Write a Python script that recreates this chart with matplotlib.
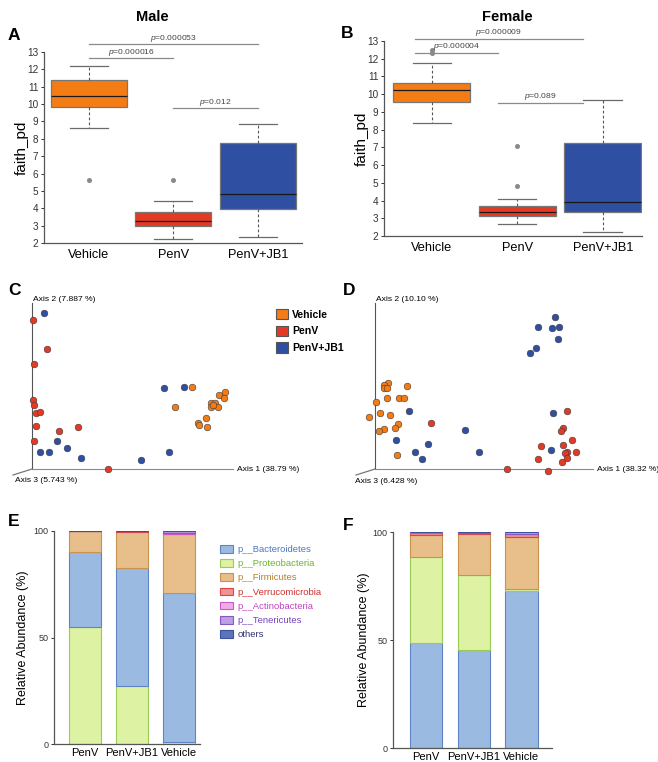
import matplotlib
matplotlib.use("Agg")
import matplotlib.pyplot as plt
from matplotlib.patches import Patch

plt.rcParams['font.family'] = 'Liberation Sans'
plt.rcParams['mathtext.fontset'] = 'custom'
plt.rcParams['mathtext.it'] = 'Liberation Sans:italic'
plt.rcParams['mathtext.rm'] = 'Liberation Sans'

# ---- data ----
groups = ["Vehicle", "PenV", "PenV+JB1"]
group_colors = ['#F47C14', '#E33A26', '#2F4FA2']

# faith_pd boxplots (whisker low, q1, median, q3, whisker high, outliers)
male_lo = [8.65, 2.25, 2.35]
male_q1 = [9.82, 2.97, 3.93]
male_med = [10.45, 3.27, 4.82]
male_q3 = [11.37, 3.77, 7.76]
male_hi = [12.18, 4.42, 8.84]
male_fliers = [[5.63], [5.63], []]
male_sig_x0 = [1, 1, 2]
male_sig_x1 = [3, 2, 3]
male_sig_y = [13.44, 12.65, 9.75]
male_sig_p = ["0.000053", "0.000016", "0.012"]

female_lo = [8.4, 2.66, 2.2]
female_q1 = [9.58, 3.15, 3.35]
female_med = [10.22, 3.36, 3.9]
female_q3 = [10.62, 3.72, 7.24]
female_hi = [11.74, 4.08, 9.67]
female_fliers = [[12.3, 12.48], [4.82, 7.08], []]
female_sig_x0 = [0.8, 0.8, 1.77]
female_sig_x1 = [2.77, 1.77, 2.77]
female_sig_y = [13.13, 12.34, 9.52]
female_sig_p = ["0.000009", "0.000004", "0.089"]

# PCoA (axis 1 / axis 2 projection)
c_veh_x = [160.3, 143, 193, 187, 192.3, 178.7, 183, 178.7, 186.3, 181.3, 173.7, 165.7, 167.3, 175]
c_veh_y = [82.3, 61.7, 77, 74, 70.7, 66.3, 66.3, 62.3, 62.3, 64, 51, 45.7, 44, 42]
c_pen_x = [0.7, 15, 1.7, 0.7, 2.3, 4, 8, 3.7, 26.7, 46.3, 1.7, 75.7]
c_pen_y = [149, 119.7, 104.7, 69, 64, 55.7, 57.3, 42.7, 37.7, 42.3, 27.7, 0]
c_jb1_x = [12, 132.3, 152, 25.3, 35.3, 8, 16.7, 49.3, 109.3, 137.3]
c_jb1_y = [156.3, 81.3, 82.3, 28.3, 21, 17.3, 17.3, 11.3, 8.7, 17.3]

d_veh_x = [13.3, 9, 9, 12.3, 32, 12, 24.3, 29, 1.3, 5.3, 14.7, -6, 22.7, 20.3, 8.7, 4.3, 22]
d_veh_y = [85.7, 84, 80.7, 80.7, 83, 70.7, 71, 71, 67, 56, 54, 52.3, 45.3, 41, 40, 37.7, 14.3]
d_pen_x = [56.3, 191.7, 188, 185.7, 196.7, 166.3, 188.3, 192.3, 200.7, 190.3, 192, 187.3, 163.3, 131.7, 172.7]
d_pen_y = [46.3, 57.7, 41, 37.7, 28.7, 23.3, 24, 17.3, 16.7, 16.3, 11, 7.3, 10, 0, -1.7]
d_jb1_x = [179.7, 163.3, 177.3, 184, 182.7, 160.7, 154.7, 34.3, 178.3, 90, 21.3, 53.3, 104.3, 40.3, 46.7, 176.3]
d_jb1_y = [152.3, 142.3, 140.7, 142.3, 130, 121.3, 115.7, 57.7, 55.7, 38.7, 28.7, 25.3, 16.7, 16.7, 9.7, 18.7]

# relative abundance (%)
bar_groups = ["PenV", "PenV+JB1", "Vehicle"]
phyla = ["p__Bacteroidetes", "p__Proteobacteria", "p__Firmicutes", "p__Verrucomicrobia",
         "p__Actinobacteria", "p__Tenericutes", "others"]
phyla_face = ['#9BBAE2', '#DDF2A2', '#E8BF8A', '#F29292', '#F0AAE6', '#BDA0E2', '#5C74B8']
phyla_edge = ['#5F84C4', '#9ACB58', '#C8924F', '#D94646', '#C85AC8', '#8558C4', '#3C52A0']
phyla_text = ['#4A78C4', '#6CB52C', '#B7802C', '#CF3131', '#C043C0', '#7444C0', '#2E3470']

male_bact = [35.0, 55.5, 70.0]
male_proteo = [55.0, 27.0, 1.0]
male_firm = [9.9, 17.0, 27.6]
male_verr = [0.1, 0.4, 0.1]
male_actino = [0.0, 0.0, 0.2]
male_teneric = [0.0, 0.1, 1.1]
male_others = [0.0, 0.0, 0.0]

female_bact = [48.6, 45.2, 72.6]
female_proteo = [39.9, 34.8, 1.0]
female_firm = [10.1, 19.3, 23.9]
female_verr = [1.0, 0.1, 1.4]
female_actino = [0.2, 0.2, 0.4]
female_teneric = [0.2, 0.4, 0.7]
female_others = [0.0, 0.0, 0.0]

W, H = 658, 762
fig = plt.figure(figsize=(W / 100, H / 100), dpi=100)


def rect(x0, y0, x1, y1):
    # pixel box -> figure fraction
    return [x0 / W, 1 - y1 / H, (x1 - x0) / W, (y1 - y0) / H]


def boxpanel(ax, lo, q1, med, q3, hi, fl, sx0, sx1, sy, sp, xlim):
    stats = []
    for i in range(3):
        stats.append(dict(whislo=lo[i], q1=q1[i], med=med[i], q3=q3[i], whishi=hi[i], fliers=fl[i]))
    bp = ax.bxp(stats, positions=[1, 2, 3], widths=0.9, patch_artist=True,
                boxprops=dict(edgecolor='#777777', linewidth=0.9),
                medianprops=dict(color='#1a1a1a', linewidth=0.9),
                whiskerprops=dict(color='#555555', linestyle=(0, (2.5, 2)), linewidth=0.8),
                capprops=dict(color='#6a6a6a', linewidth=0.9),
                flierprops=dict(marker='o', markersize=2.6, markerfacecolor='#8a8a8a',
                                markeredgecolor='#8a8a8a'))
    for patch, c in zip(bp['boxes'], group_colors):
        patch.set_facecolor(c)
    for i in range(len(sy)):
        ax.plot([sx0[i], sx1[i]], [sy[i], sy[i]], color='#8a8a8a', lw=0.9, clip_on=False)
        ax.text((sx0[i] + sx1[i]) / 2, sy[i] + 0.03, r'$p$=' + sp[i], ha='center', va='bottom',
                fontsize=6.1, color='#444444')
    ax.set_xlim(*xlim)
    ax.set_ylim(2, 13)
    ax.set_yticks(range(2, 14))
    ax.set_xticks([1, 2, 3])
    ax.set_xticklabels(groups, fontsize=9.2)
    ax.tick_params(axis='y', labelsize=7.2, length=2.5, width=0.7, pad=1.5, colors='#333333')
    ax.tick_params(axis='x', length=0, pad=4)
    ax.set_ylabel('faith_pd', fontsize=11, labelpad=-1)
    for s in ['top', 'right']:
        ax.spines[s].set_visible(False)
    for s in ['left', 'bottom']:
        ax.spines[s].set_color('#555555')
        ax.spines[s].set_linewidth(0.9)


axA = fig.add_axes(rect(44, 52, 302, 243))
boxpanel(axA, male_lo, male_q1, male_med, male_q3, male_hi, male_fliers,
         male_sig_x0, male_sig_x1, male_sig_y, male_sig_p, (0.47, 3.52))
axB = fig.add_axes(rect(384, 41, 642, 236))
boxpanel(axB, female_lo, female_q1, female_med, female_q3, female_hi, female_fliers,
         female_sig_x0, female_sig_x1, female_sig_y, female_sig_p, (0.44, 3.46))


def pcoa(ax, pts, labels, w, h, dx3, dy3, l3x, l3y):
    vx, vy, px, py, jx, jy = pts
    for xs, ys, c in [(vx, vy, group_colors[0]), (px, py, group_colors[1]), (jx, jy, group_colors[2])]:
        ax.scatter(xs, ys, s=23, c=c, edgecolors='#3a3a3a', linewidths=0.4, clip_on=False, zorder=3)
    ax.set_xlim(0, w)
    ax.set_ylim(0, h)
    ax.set_xticks([])
    ax.set_yticks([])
    for s in ['top', 'right']:
        ax.spines[s].set_visible(False)
    ax.spines['left'].set_color('#555555')
    ax.spines['bottom'].set_color('#8a8a8a')
    ax.plot([0, dx3], [0, dy3], transform=ax.transAxes, color='#777777', lw=0.9, clip_on=False)
    ax.text(0.005, 1 + 4 / h, labels[1], transform=ax.transAxes, fontsize=6.1, va='center', ha='left')
    ax.text(1 + 4 / w, 0, labels[0], transform=ax.transAxes, fontsize=6.1, va='center', ha='left')
    ax.text(l3x, l3y, labels[2], transform=ax.transAxes, fontsize=6.1, va='center', ha='left')


axC = fig.add_axes(rect(32, 303, 233, 469))
pcoa(axC, (c_veh_x, c_veh_y, c_pen_x, c_pen_y, c_jb1_x, c_jb1_y),
     ["Axis 1 (38.79 %)", "Axis 2 (7.887 %)", "Axis 3 (5.743 %)"],
     201, 166, -19 / 201, -6 / 166, -17 / 201, -11 / 166)
axD = fig.add_axes(rect(375, 303, 593, 469))
pcoa(axD, (d_veh_x, d_veh_y, d_pen_x, d_pen_y, d_jb1_x, d_jb1_y),
     ["Axis 1 (38.32 %)", "Axis 2 (10.10 %)", "Axis 3 (6.428 %)"],
     218, 166, -19 / 218, -6 / 166, -20 / 218, -12 / 166)

leg_handles = [Patch(facecolor=c, edgecolor='#555555', linewidth=0.8) for c in group_colors]
legC = fig.legend(leg_handles, groups, loc='upper left', bbox_to_anchor=(276 / W, 1 - 309 / H),
                  frameon=False, fontsize=7.6, handlelength=1.15, handleheight=1.15,
                  handletextpad=0.4, labelspacing=0.55, borderpad=0, borderaxespad=0)
for t in legC.get_texts():
    t.set_fontweight('bold')


def barpanel(ax, layers, order, xlim, lpad):
    bottom = [0.0, 0.0, 0.0]
    for k in order:
        vals = layers[k]
        ax.bar(range(3), vals, width=0.68, bottom=bottom, color=phyla_face[k],
               edgecolor=phyla_edge[k], linewidth=0.8)
        bottom = [b + v for b, v in zip(bottom, vals)]
    ax.set_xlim(*xlim)
    ax.set_ylim(0, 100)
    ax.set_yticks([0, 50, 100])
    ax.set_xticks(range(3))
    ax.set_xticklabels(bar_groups, fontsize=8)
    ax.tick_params(axis='y', labelsize=6.5, length=2.5, width=0.7, pad=1.5, colors='#333333')
    ax.tick_params(axis='x', length=0, pad=3)
    ax.set_ylabel('Relative Abundance (%)', fontsize=9, labelpad=lpad)
    for s in ['top', 'right']:
        ax.spines[s].set_visible(False)
    for s in ['left', 'bottom']:
        ax.spines[s].set_color('#555555')
        ax.spines[s].set_linewidth(0.9)


axE = fig.add_axes(rect(54, 531, 200, 744))
barpanel(axE, [male_bact, male_proteo, male_firm, male_verr, male_actino, male_teneric, male_others],
         [1, 0, 2, 3, 4, 5, 6], (-0.66, 2.45), 3)
axF = fig.add_axes(rect(393, 532, 552, 748))
barpanel(axF, [female_bact, female_proteo, female_firm, female_verr, female_actino, female_teneric,
               female_others], [0, 1, 2, 3, 4, 5, 6], (-0.695, 2.64), 2)

ph_handles = [Patch(facecolor=f, edgecolor=e, linewidth=0.8) for f, e in zip(phyla_face, phyla_edge)]
legE = fig.legend(ph_handles, phyla, loc='upper left', bbox_to_anchor=(220 / W, 1 - 545 / H),
                  frameon=False, fontsize=6.8, handlelength=1.4, handleheight=0.85,
                  handletextpad=0.45, labelspacing=0.55, borderpad=0, borderaxespad=0)
for t, c in zip(legE.get_texts(), phyla_text):
    t.set_color(c)

# titles and panel letters
fig.text(152 / W, 1 - 17 / H, 'Male', ha='center', va='center', fontsize=10.5, fontweight='bold')
fig.text(507 / W, 1 - 17 / H, 'Female', ha='center', va='center', fontsize=10.5, fontweight='bold')
for lab, x, y in [('A', 8, 35), ('B', 341, 33), ('C', 8, 290), ('D', 343, 290), ('E', 8, 522), ('F', 343, 525)]:
    fig.text(x / W, 1 - y / H, lab, ha='left', va='center', fontsize=12.5, fontweight='bold')

fig.savefig('out.png', dpi=100)
